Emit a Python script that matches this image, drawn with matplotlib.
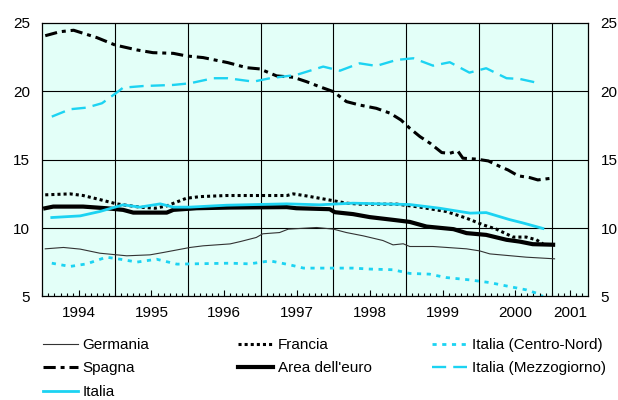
import matplotlib
matplotlib.use("Agg")
import matplotlib.pyplot as plt
import numpy as np

plt.rcParams['font.family'] = ['Liberation Sans', 'DejaVu Sans']

# %% Data (decimal years, rates in %).
germania_x = [1994.04, 1994.29, 1994.52, 1994.79, 1995.16, 1995.48, 1995.66, 1996.03, 1996.21, 1996.58,
              1996.72, 1996.94, 1997.03, 1997.26, 1997.38, 1997.77, 1998.00, 1998.18, 1998.41, 1998.68,
              1998.82, 1998.96, 1999.05, 1999.37, 1999.83, 2000.01, 2000.15, 2000.65, 2001.04]
germania_y = [8.48, 8.58, 8.46, 8.16, 7.97, 8.04, 8.21, 8.58, 8.70, 8.84,
              9.01, 9.31, 9.58, 9.67, 9.92, 10.04, 9.92, 9.67, 9.43, 9.09,
              8.77, 8.85, 8.65, 8.65, 8.48, 8.33, 8.11, 7.87, 7.75]

francia_x = [1994.04, 1994.38, 1994.56, 1994.77, 1995.02, 1995.34, 1995.55, 1995.71, 1995.98, 1996.17,
             1996.53, 1997.36, 1997.45, 1997.63, 1997.81, 1998.00, 1998.18, 1998.36, 1998.87, 1999.19,
             1999.55, 1999.83, 2000.06, 2000.24, 2000.47, 2000.65, 2000.79, 2000.88]
francia_y = [12.43, 12.50, 12.38, 12.11, 11.77, 11.53, 11.45, 11.62, 12.18, 12.30,
             12.38, 12.38, 12.50, 12.35, 12.18, 12.00, 11.82, 11.75, 11.75, 11.53,
             11.21, 10.72, 10.23, 9.92, 9.34, 9.34, 9.14, 8.85]

spagna_x = [1994.04, 1994.24, 1994.43, 1994.56, 1994.75, 1995.00, 1995.30, 1995.52, 1995.80, 1995.98,
            1996.21, 1996.55, 1996.81, 1996.99, 1997.22, 1997.45, 1997.63, 1997.81, 1998.00, 1998.18,
            1998.36, 1998.59, 1998.78, 1998.93, 1999.05, 1999.19, 1999.33, 1999.49, 1999.60, 1999.71,
            1999.78, 1999.97, 2000.13, 2000.29, 2000.40, 2000.54, 2000.70, 2000.81, 2000.99]
spagna_y = [24.07, 24.36, 24.47, 24.25, 23.93, 23.39, 23.03, 22.83, 22.78, 22.59,
            22.47, 22.10, 21.73, 21.64, 21.13, 21.03, 20.71, 20.34, 19.98, 19.25,
            19.00, 18.76, 18.40, 17.90, 17.30, 16.69, 16.20, 15.52, 15.47, 15.64,
            15.11, 15.04, 14.91, 14.50, 14.25, 13.82, 13.69, 13.52, 13.64]

euro_x = [1994.04, 1994.15, 1994.56, 1994.88, 1995.11, 1995.25, 1995.71, 1995.80, 1996.12, 1996.58,
          1997.36, 1997.49, 1997.95, 1998.02, 1998.27, 1998.50, 1998.82, 1999.05, 1999.28, 1999.65,
          1999.83, 2000.10, 2000.38, 2000.56, 2000.74, 2001.02]
euro_y = [11.45, 11.57, 11.57, 11.45, 11.33, 11.13, 11.13, 11.33, 11.45, 11.50,
          11.53, 11.45, 11.38, 11.16, 11.02, 10.80, 10.60, 10.45, 10.11, 9.92,
          9.63, 9.50, 9.14, 9.01, 8.82, 8.78]

italia_x = [1994.13, 1994.52, 1994.79, 1995.11, 1995.34, 1995.62, 1995.80, 1996.03, 1996.53, 1997.36,
            1997.81, 1998.27, 1999.05, 1999.46, 1999.88, 2000.10, 2000.42, 2000.60, 2000.88]
italia_y = [10.77, 10.89, 11.21, 11.70, 11.53, 11.77, 11.53, 11.53, 11.67, 11.77,
            11.70, 11.82, 11.72, 11.45, 11.09, 11.13, 10.62, 10.38, 9.97]

cnord_x = [1994.13, 1994.38, 1994.61, 1994.88, 1995.07, 1995.30, 1995.57, 1995.85, 1996.58, 1996.85,
           1997.13, 1997.40, 1997.59, 1998.05, 1998.27, 1998.50, 1998.82, 1999.05, 1999.32, 1999.55,
           1999.87, 2000.15, 2000.42, 2000.65, 2000.79, 2000.88]
cnord_y = [7.43, 7.19, 7.38, 7.87, 7.72, 7.51, 7.72, 7.36, 7.43, 7.38,
           7.60, 7.31, 7.07, 7.07, 7.07, 7.00, 6.95, 6.68, 6.63, 6.38,
           6.21, 6.01, 5.72, 5.48, 5.24, 5.00]

mezz_x = [1994.13, 1994.38, 1994.61, 1994.82, 1995.01, 1995.11, 1995.39, 1995.80, 1996.03, 1996.35,
          1996.55, 1996.90, 1997.13, 1997.49, 1997.86, 1998.09, 1998.36, 1998.59, 1998.87, 1999.10,
          1999.37, 1999.60, 1999.87, 2000.10, 2000.38, 2000.56, 2000.79]
mezz_y = [18.15, 18.69, 18.81, 19.13, 19.86, 20.27, 20.39, 20.47, 20.59, 20.96,
          20.96, 20.71, 20.96, 21.20, 21.81, 21.51, 22.05, 21.86, 22.30, 22.42,
          21.88, 22.13, 21.37, 21.69, 20.96, 20.91, 20.64]

years = [1994, 1995, 1996, 1997, 1998, 1999, 2000, 2001]
yticks = [5, 10, 15, 20, 25]

# %% Plot.
cyan = '#1CD3F2'
fig = plt.figure(figsize=(6.18, 4.0), dpi=100)
ax = fig.add_axes([0.0685, 0.259, 0.883, 0.6835])
ax.set_facecolor('#E3FFF8')

l_ger, = ax.plot(germania_x, germania_y, color='#333333', lw=0.8, label='Germania')
l_fra, = ax.plot(francia_x, francia_y, color='black', lw=2.2, dashes=(1, 1), label='Francia')
l_cn, = ax.plot(cnord_x, cnord_y, color=cyan, lw=2.0, dashes=(1.5, 2), label='Italia (Centro-Nord)')
l_spa, = ax.plot(spagna_x, spagna_y, color='black', lw=2.2, dashes=(4, 1.6, 1.3, 1.6), label='Spagna')
l_eur, = ax.plot(euro_x, euro_y, color='black', lw=3.0, label="Area dell'euro")
l_mez, = ax.plot(mezz_x, mezz_y, color=cyan, lw=1.7, dashes=(6, 3), label='Italia (Mezzogiorno)')
l_ita, = ax.plot(italia_x, italia_y, color=cyan, lw=2.0, label='Italia')

ax.set_xlim(1994, 2001.5)
ax.set_ylim(5, 25)

# year boundaries as grid lines
for yr in years[1:]:
    ax.axvline(yr, color='black', lw=0.8, zorder=1)
for v in yticks[1:-1]:
    ax.axhline(v, color='black', lw=0.8, zorder=1)

label_pos = [y + 0.5 for y in years[:-1]] + [2001.25]
ax.set_xticks(label_pos)
ax.set_xticklabels([str(y) for y in years])
ax.set_xticks(np.arange(1994, 2001.5, 1 / 12), minor=True)
ax.tick_params(axis='x', which='major', direction='in', length=4.5, width=0.8, pad=7, labelsize=11)
ax.tick_params(axis='x', which='minor', direction='in', length=2.5, width=0.8)

ax.set_yticks(yticks)
ax.tick_params(axis='y', length=0, labelsize=11, pad=9, labelright=True, right=False)

for s in ax.spines.values():
    s.set_linewidth(0.9)

# legend in three columns
cols = [([l_ger, l_spa, l_ita], 43), ([l_fra, l_eur], 238), ([l_cn, l_mez], 432)]
for handles, xpix in cols:
    fig.legend(handles=handles, loc='upper left', bbox_to_anchor=(xpix / 618, 1 - 338 / 400),
               frameon=False, fontsize=11, handlelength=2.3, handletextpad=0.3,
               labelspacing=0.62, borderpad=0, borderaxespad=0)

fig.savefig('out.png', dpi=100)
